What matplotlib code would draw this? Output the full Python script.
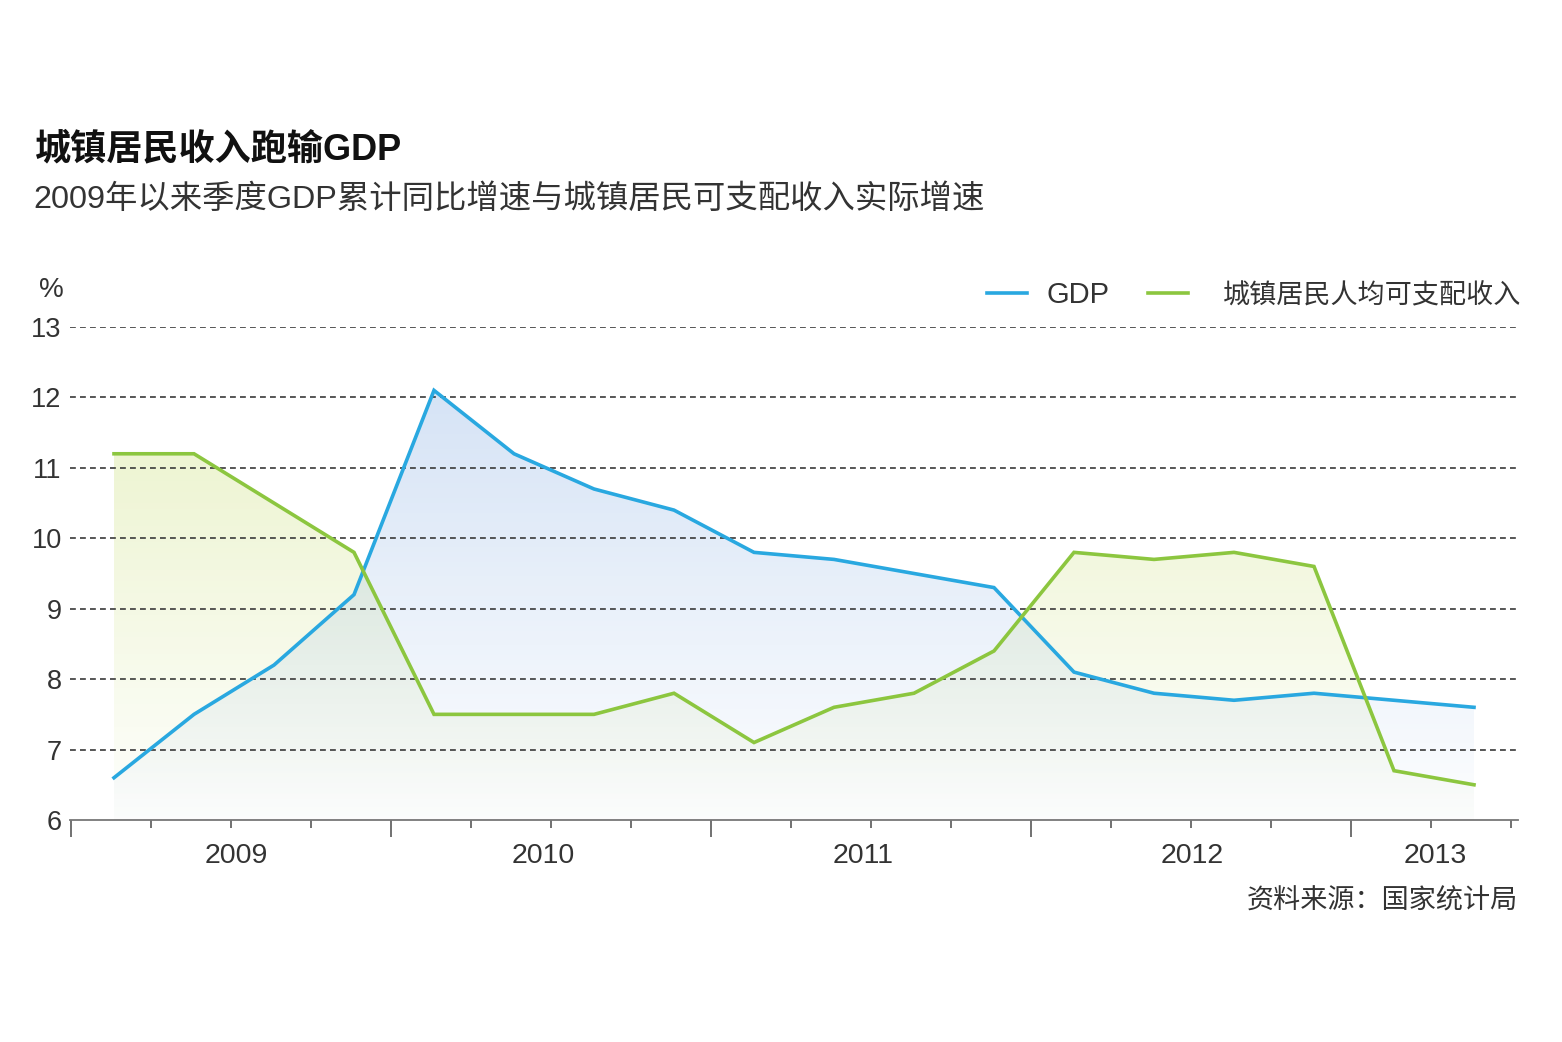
import numpy as np
import matplotlib
matplotlib.use("Agg")
import matplotlib.pyplot as plt
from matplotlib.lines import Line2D

plt.rcParams['font.family'] = ['Liberation Sans', 'Noto Sans CJK SC', 'DejaVu Sans']

# ---- data ----
quarters = ["2009Q1", "2009Q2", "2009Q3", "2009Q4", "2010Q1", "2010Q2", "2010Q3", "2010Q4",
            "2011Q1", "2011Q2", "2011Q3", "2011Q4", "2012Q1", "2012Q2", "2012Q3", "2012Q4",
            "2013Q1", "2013Q2"]
gdp = [6.6, 7.5, 8.2, 9.2, 12.1, 11.2, 10.7, 10.4, 9.8, 9.7, 9.5, 9.3, 8.1, 7.8, 7.7, 7.8, 7.7, 7.6]
income = [11.2, 11.2, 10.5, 9.8, 7.5, 7.5, 7.5, 7.8, 7.1, 7.6, 7.8, 8.4, 9.8, 9.7, 9.8, 9.6, 6.7, 6.5]
year_labels = ["2009", "2010", "2011", "2012", "2013"]
year_label_pos = [1.53, 5.37, 9.37, 13.48, 16.51]
y_ticks = [6, 7, 8, 9, 10, 11, 12, 13]

title = "城镇居民收入跑输GDP"
subtitle = "2009年以来季度GDP累计同比增速与城镇居民可支配收入实际增速"
source = "资料来源：国家统计局"
legend_labels = ["GDP", "城镇居民人均可支配收入"]

blue = "#29a8e0"
green = "#8cc63f"
text_c = "#333333"

W, H = 1562, 1042
fig = plt.figure(figsize=(W / 100, H / 100), dpi=100)
ax = fig.add_axes([70 / W, 1 - 820 / H, (1518 - 70) / W, (820 - 327) / H])

x = np.arange(len(quarters))
xmin, xmax = -0.55, 17.55
ax.set_xlim(xmin, xmax)
ax.set_ylim(6, 13)


def gradient_fill(xv, yv, rgb, amax, z):
    poly = ax.fill_between(xv, yv, 6, facecolor='none', edgecolor='none')
    top = max(yv)
    n = 256
    ys = np.linspace(6, top, n)
    alpha = amax * (0.05 + 0.95 * (ys - 6) / (top - 6))
    img = np.zeros((n, 2, 4))
    img[..., 0] = rgb[0]
    img[..., 1] = rgb[1]
    img[..., 2] = rgb[2]
    img[..., 3] = alpha[:, None]
    im = ax.imshow(img, extent=[xv[0], xv[-1], 6, top], origin='lower',
                   aspect='auto', zorder=z, interpolation='bilinear')
    im.set_clip_path(poly.get_paths()[0], transform=ax.transData)
    poly.remove()


gradient_fill(x, income, (0.75, 0.85, 0.35), 0.27, 1)
gradient_fill(x, gdp, (0.55, 0.70, 0.90), 0.36, 1.1)
ax.set_xlim(xmin, xmax)
ax.set_ylim(6, 13)

# grid lines
for yv in y_ticks[1:]:
    ax.axhline(yv, color='#3a3a3a', lw=1.2, ls=(0, (3.5, 2.5)), zorder=2)

ax.plot(x, gdp, color=blue, lw=2.6, zorder=4, solid_joinstyle='miter')
ax.plot(x, income, color=green, lw=2.6, zorder=4, solid_joinstyle='miter')

for s in ['top', 'right', 'left']:
    ax.spines[s].set_visible(False)
ax.spines['bottom'].set_color('#777777')
ax.spines['bottom'].set_linewidth(1.3)

ax.set_yticks(y_ticks)
ax.set_yticklabels([str(v) for v in y_ticks], fontsize=19.5, color=text_c)
ax.tick_params(axis='y', length=0, pad=6)

tick_pos = [k - 0.54 for k in range(19)]
major = [t for k, t in enumerate(tick_pos) if k % 4 == 0 and k < 18]
minor = [t for k, t in enumerate(tick_pos) if not (k % 4 == 0 and k < 18)]
ax.set_xticks(major)
ax.set_xticks(minor, minor=True)
ax.set_xticklabels([])
ax.tick_params(axis='x', which='major', length=12, width=1.3, color='#666666', direction='out')
ax.tick_params(axis='x', which='minor', length=6, width=1.3, color='#666666', direction='out')

for lab, p in zip(year_labels, year_label_pos):
    ax.text(p, -0.047, lab, transform=ax.get_xaxis_transform(), ha='center', va='top',
            fontsize=20.5, color=text_c)

fig.text(35 / W, 1 - 150 / H, title, fontsize=26, fontweight='bold', color='#111111',
         ha='left', va='center')
fig.text(33 / W, 1 - 200 / H, subtitle, fontsize=23.3, color=text_c, ha='left', va='center')
fig.text(51 / W, 1 - 290 / H, "%", fontsize=20, color=text_c, ha='center', va='center')
fig.text(1518 / W, 1 - 902 / H, source, fontsize=19.5, color=text_c, ha='right', va='center')

# legend (manual)
ly = 1 - 293 / H
fig.add_artist(Line2D([987 / W, 1027 / W], [ly, ly], color=blue, lw=2.6, transform=fig.transFigure))
fig.text(1047 / W, 1 - 295 / H, legend_labels[0], fontsize=21, color=text_c, ha='left', va='center')
fig.add_artist(Line2D([1148 / W, 1188 / W], [ly, ly], color=green, lw=2.6, transform=fig.transFigure))
fig.text(1521 / W, 1 - 296 / H, legend_labels[1], fontsize=19.5, color=text_c, ha='right', va='center')

fig.savefig("out.png", dpi=100, facecolor='white')
